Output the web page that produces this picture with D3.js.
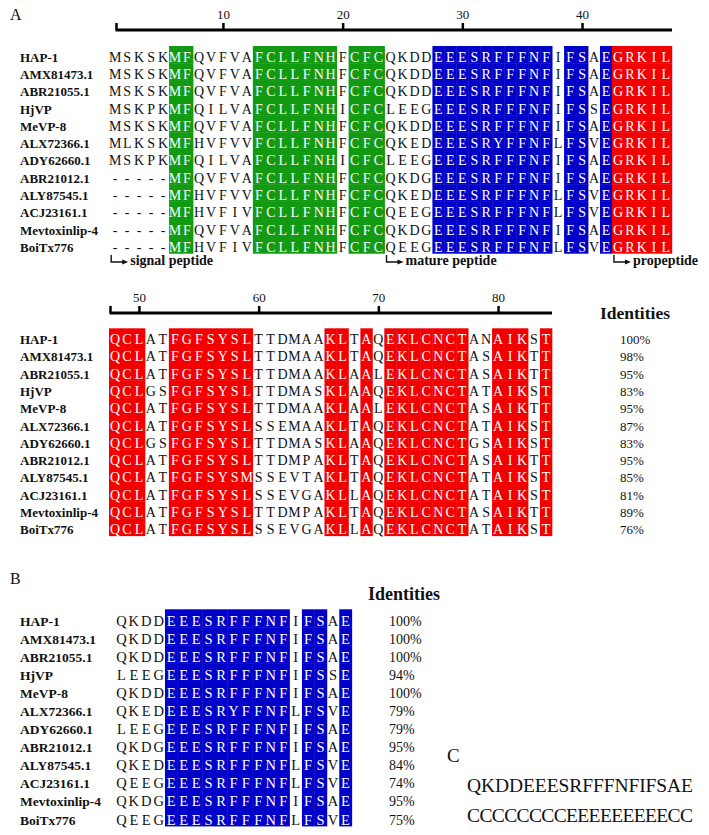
<!DOCTYPE html>
<html><head><meta charset="utf-8">
<script src="https://cdn.jsdelivr.net/npm/d3@7/dist/d3.min.js"></script>
<style>body{margin:0;background:#fff}svg{display:block}text{font-family:"Liberation Serif","Times New Roman",serif}</style>
</head><body>
<svg id="c" width="709" height="835"></svg>
<script>
const names = ["HAP-1","AMX81473.1","ABR21055.1","HjVP","MeVP-8","ALX72366.1","ADY62660.1","ABR21012.1","ALY87545.1","ACJ23161.1","Mevtoxinlip-4","BoiTx776"];
const seqA1 = [
"MSKSKMFQVFVAFCLLFNHFCFCQKDDEEESRFFFNFIFSAEGRKIL",
"MSKSKMFQVFVAFCLLFNHFCFCQKDDEEESRFFFNFIFSAEGRKIL",
"MSKSKMFQVFVAFCLLFNHFCFCQKDDEEESRFFFNFIFSAEGRKIL",
"MSKPKMFQILVAFCLLFNHICFCLEEGEEESRFFFNFIFSSEGRKIL",
"MSKSKMFQVFVAFCLLFNHFCFCQKDDEEESRFFFNFIFSAEGRKIL",
"MLKSKMFHVFVVFCLLFNHFCFCQKEDEEESRYFFNFLFSVEGRKIL",
"MSKPKMFQILVAFCLLFNHICFCLEEGEEESRFFFNFIFSAEGRKIL",
"-----MFQVFVAFCLLFNHFCFCQKDGEEESRFFFNFIFSAEGRKIL",
"-----MFHVFVVFCLLFNHFCFCQKEDEEESRFFFNFLFSVEGRKIL",
"-----MFHVFIVFCLLFNHFCFCQEEGEEESRFFFNFLFSVEGRKIL",
"-----MFQVFVAFCLLFNHFCFCQKDGEEESRFFFNFIFSAEGRKIL",
"-----MFHVFIVFCLLFNHFCFCQEEGEEESRFFFNFLFSVEGRKIL"];
const seqA2 = [
"QCLATFGFSYSLTTDMAAKLTAQEKLCNCTANAIKST",
"QCLATFGFSYSLTTDMAAKLTAQEKLCNCTASAIKTT",
"QCLATFGFSYSLTTDMAAKLAALEKLCNCTASAIKTT",
"QCLGSFGFSYSLTTDMASKLAAQEKLCNCTATAIKST",
"QCLATFGFSYSLTTDMAAKLAALEKLCNCTASAIKTT",
"QCLATFGFSYSLSSEMAAKLTAQEKLCNCTATAIKST",
"QCLGSFGFSYSLTTDMASKLAAQEKLCNCTGSAIKST",
"QCLATFGFSYSLTTDMPAKLTAQEKLCNCTASAIKTT",
"QCLATFGFSYSMSSEVTAKLTAQEKLCNCTATAIKST",
"QCLATFGFSYSLSSEVGAKLLAQEKLCNCTATAIKST",
"QCLATFGFSYSLTTDMPAKLTAQEKLCNCTASAIKTT",
"QCLATFGFSYSLSSEVGAKLLAQEKLCNCTATAIKST"];
const identA = [100,98,95,83,95,87,83,95,85,81,89,76];
const seqB = [
"QKDDEEESRFFFNFIFSAE","QKDDEEESRFFFNFIFSAE","QKDDEEESRFFFNFIFSAE","LEEGEEESRFFFNFIFSSE",
"QKDDEEESRFFFNFIFSAE","QKEDEEESRYFFNFLFSVE","LEEGEEESRFFFNFIFSAE","QKDGEEESRFFFNFIFSAE",
"QKEDEEESRFFFNFLFSVE","QEEGEEESRFFFNFLFSVE","QKDGEEESRFFFNFIFSAE","QEEGEEESRFFFNFLFSVE"];
const identB = [100,100,100,94,100,79,79,95,84,74,95,75];
const colsA1 = "wwwwwggwwwwwgggggggwgggwwwwbbbbbbbbbbwbbwbrrrrr";
const colsA2 = "rrrwwrrrrrrrwwwwwwrrwrwrrrrrrrwwrrrwr";
const colsB  = "wwwwbbbbbbbbbbwbbwb";
const ticksA1 = [10,20,30,40];
const ticksA2 = [50,60,70,80];
const regions = [{label:"signal peptide",col:1},{label:"mature peptide",col:24},{label:"propeptide",col:43}];
const seqC = "QKDDEEESRFFFNFIFSAE";
const ssC  = "CCCCCCCCEEEEEEEEECC";

const fill = {w:null, g:"#129a12", b:"#0000c8", r:"#f20000"};
const svg = d3.select("#c");

function block(opts){
  const {seqs, cols, start, x0, cw, top, bottom, fs, ruler} = opts;
  const n = cols.length;
  const x = d3.scaleLinear().domain([start, start+n-1]).range([x0, x0+(n-1)*cw]);
  const y = d3.scaleBand().domain(names).range([top, bottom]);
  const g = svg.append("g");
  const cells = [];
  seqs.forEach((s,ri)=>{ for(let k=0;k<n;k++) cells.push({r:names[ri], i:start+k, ch:s[k], c:cols[k]}); });
  g.selectAll("rect").data(cells.filter(d=>d.c!=="w")).join("rect")
    .attr("x",d=>x(d.i)-cw/2).attr("y",d=>y(d.r))
    .attr("width",cw+0.4).attr("height",y.bandwidth()+0.4)
    .attr("fill",d=>fill[d.c]);
  g.selectAll("text.res").data(cells).join("text").attr("class","res")
    .attr("x",d=>x(d.i)).attr("y",d=>y(d.r)+y.bandwidth()-1.5)
    .attr("text-anchor","middle").attr("font-size",fs)
    .attr("fill",d=>d.c==="w"?"#111":"#fff").text(d=>d.ch);
  g.selectAll("text.nm").data(names).join("text").attr("class","nm")
    .attr("x",20).attr("y",d=>y(d)+y.bandwidth()-1.5)
    .attr("font-weight","bold").attr("font-size",opts.nfs).attr("fill","#111").text(d=>d);
  if(opts.ident){
    g.selectAll("text.id").data(opts.ident).join("text").attr("class","id")
      .attr("x",opts.idx).attr("y",(d,i)=>y(names[i])+y.bandwidth()-1.5)
      .attr("font-size",opts.ifs).attr("fill","#111").text(d=>d+"%");
    g.append("text").attr("x",opts.hx).attr("y",opts.hy).attr("font-weight","bold")
      .attr("font-size",opts.hfs).attr("fill","#111").text("Identities");
  }
  if(ruler){
    const ax = d3.axisTop(x).tickValues(ruler.ticks).tickSize(7).tickSizeOuter(0);
    const ag = g.append("g").attr("transform",`translate(0,${ruler.y})`).call(ax);
    ag.select(".domain").remove();
    ag.selectAll(".tick line").attr("stroke","#000").attr("stroke-width",2.5);
    ag.selectAll(".tick text").attr("font-size",13).attr("font-family","Liberation Serif, serif").attr("fill","#111").attr("dy","-0.1em");
    g.append("line").attr("x1",ruler.x1).attr("x2",ruler.x2).attr("y1",ruler.y).attr("y2",ruler.y)
      .attr("stroke","#000").attr("stroke-width",3);
    g.append("line").attr("x1",ruler.x1+1).attr("x2",ruler.x1+1).attr("y1",ruler.y).attr("y2",ruler.y-7)
      .attr("stroke","#000").attr("stroke-width",2.5);
  }
  return {x,y};
}

// Section A, block 1
const b1 = block({seqs:seqA1, cols:colsA1, start:1, x0:115.2, cw:11.97, top:46, bottom:253.3, fs:14, nfs:13,
  ruler:{ticks:ticksA1, y:30, x1:115.5, x2:672}});
// Section A, block 2
block({seqs:seqA2, cols:colsA2, start:48, x0:115, cw:11.97, top:328.3, bottom:535.7, fs:14, nfs:13,
  ruler:{ticks:ticksA2, y:313, x1:109.5, x2:552},
  ident:identA, idx:620, ifs:13, hx:600, hy:319, hfs:17.5});
// Section B
block({seqs:seqB, cols:colsB, start:1, x0:121.4, cw:12.45, top:609.3, bottom:826, fs:14.5, nfs:13.5,
  ident:identB, idx:389, ifs:14, hx:368, hy:600, hfs:18});

// region annotations
const ann = svg.append("g");
regions.forEach(r=>{
  const bx = b1.x(r.col)-4;
  const ay = 262;
  ann.append("path").attr("d",`M${bx},255 L${bx},${ay} L${bx+13},${ay}`).attr("fill","none").attr("stroke","#111").attr("stroke-width",1.4);
  ann.append("path").attr("d",`M${bx+17},${ay} L${bx+11},${ay-2.6} L${bx+11},${ay+2.6} Z`).attr("fill","#111");
  ann.append("text").attr("x",bx+19).attr("y",265).attr("font-weight","bold").attr("font-size",14).attr("fill","#111").text(r.label);
});

// panel labels
svg.append("text").attr("x",10).attr("y",20).attr("font-size",16).attr("fill","#111").text("A");
svg.append("text").attr("x",10).attr("y",584).attr("font-size",16).attr("fill","#111").text("B");
svg.append("text").attr("x",447).attr("y",762).attr("font-size",19).attr("fill","#111").text("C");
svg.append("text").attr("x",467).attr("y",792).attr("font-size",19.5).attr("fill","#111").attr("textLength",226).text(seqC);
svg.append("text").attr("x",467).attr("y",822).attr("font-size",19.5).attr("fill","#111").attr("textLength",226).text(ssC);
</script>
</body></html>
